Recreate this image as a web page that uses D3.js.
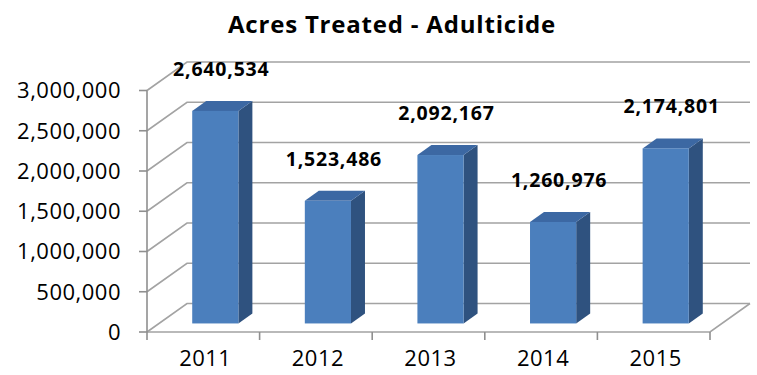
<!DOCTYPE html>
<html>
<head>
<meta charset="utf-8">
<script src="https://cdn.jsdelivr.net/npm/d3@7"></script>
<style>
  html, body { margin: 0; padding: 0; background: #fff; }
  svg { display: block; }
  text { font-family: "Open Sans", "Noto Sans", sans-serif; fill: #000; }
</style>
</head>
<body>
<svg id="chart" width="757" height="375"></svg>
<script>
const title = "Acres Treated - Adulticide";
const years = ["2011", "2012", "2013", "2014", "2015"];
const acres = [2640534, 1523486, 2092167, 1260976, 2174801];
const yTicks = [0, 500000, 1000000, 1500000, 2000000, 2500000, 3000000];

const W = 757, H = 375;
const svg = d3.select("#chart");

// front plane scales
const x = d3.scaleBand().domain(years).range([147, 710]);
const y = d3.scaleLinear().domain([0, 3000000]).range([332, 90.5]);

// 3D depth vector (front -> back wall)
const depth = { dx: 40, dy: -28.5 };
const barFront = 0.3, barBack = 0.65;
const barW = x.bandwidth() * 0.41;
const fmt = d3.format(",");

const gridColor = "#a3a3a3";

// Title
svg.append("text")
  .attr("x", 392).attr("y", 32.5)
  .attr("text-anchor", "middle")
  .attr("font-size", 24).attr("font-weight", "bold")
  .attr("letter-spacing", 0.8)
  .text(title);

const grid = svg.append("g").attr("fill", "none").attr("stroke", gridColor).attr("stroke-width", 1.6);

// side wall diagonals + back wall lines
yTicks.forEach(v => {
  const x0 = x.range()[0], y0 = y(v);
  const xb = x0 + depth.dx, yb = y0 + depth.dy;
  const xe = x.range()[1] + depth.dx;
  grid.append("path").attr("d", `M${x0},${y0}L${xb},${yb}L${xe},${yb}`);
});

// floor front edge and right edge
const fy = y(0);
grid.append("path")
  .attr("d", `M${x.range()[0]},${fy}L${x.range()[1]},${fy}L${x.range()[1] + depth.dx},${fy + depth.dy}`);

// value axis line and ticks
const axisG = svg.append("g").attr("stroke", "#8f8f8f").attr("stroke-width", 1.6).attr("fill", "none");
axisG.append("line")
  .attr("x1", x.range()[0]).attr("x2", x.range()[0])
  .attr("y1", y(3000000)).attr("y2", y(0));
yTicks.forEach(v => {
  axisG.append("line")
    .attr("x1", x.range()[0] - 8).attr("x2", x.range()[0])
    .attr("y1", y(v)).attr("y2", y(v));
});
// category ticks
const bounds = years.map(d => x(d)).concat([x.range()[1]]);
bounds.forEach(b => {
  axisG.append("line")
    .attr("x1", b).attr("x2", b)
    .attr("y1", y(0)).attr("y2", y(0) + 8);
});

// y tick labels
svg.append("g").selectAll("text").data(yTicks).join("text")
  .attr("x", 121).attr("y", d => y(d))
  .attr("dy", "0.36em")
  .attr("text-anchor", "end")
  .attr("font-size", 22).attr("letter-spacing", 0.5)
  .text(d => fmt(d));

// category labels
svg.append("g").selectAll("text").data(years).join("text")
  .attr("x", d => x(d) + x.bandwidth() / 2 + 2)
  .attr("y", 366)
  .attr("text-anchor", "middle")
  .attr("font-size", 22).attr("letter-spacing", 0.5)
  .text(d => d);

// bars
const fdx = depth.dx * barFront, fdy = depth.dy * barFront;
const bdx = depth.dx * barBack, bdy = depth.dy * barBack;
const sdx = bdx - fdx, sdy = bdy - fdy;

const bars = svg.append("g");
years.forEach((yr, i) => {
  const v = acres[i];
  const cx = x(yr) + x.bandwidth() / 2 + fdx;
  const xl = cx - barW / 2, xr = cx + barW / 2;
  const yt = y(v) + fdy, yb = y(0) + fdy;
  const g = bars.append("g");
  // side face
  g.append("path")
    .attr("d", `M${xr},${yb}L${xr + sdx},${yb + sdy}L${xr + sdx},${yt + sdy}L${xr},${yt}Z`)
    .attr("fill", "#2f527f");
  // top face
  g.append("path")
    .attr("d", `M${xl},${yt}L${xl + sdx},${yt + sdy}L${xr + sdx},${yt + sdy}L${xr},${yt}Z`)
    .attr("fill", "#3c68a3");
  // front face
  g.append("rect")
    .attr("x", xl).attr("y", yt)
    .attr("width", barW).attr("height", yb - yt)
    .attr("fill", "#4b7fbd");
  // data label
  g.append("text")
    .attr("x", cx + 6)
    .attr("y", yt - 35)
    .attr("text-anchor", "middle")
    .attr("font-size", 19.5).attr("font-weight", "bold")
    .attr("letter-spacing", 0.8)
    .text(fmt(v));
});
</script>
</body>
</html>
